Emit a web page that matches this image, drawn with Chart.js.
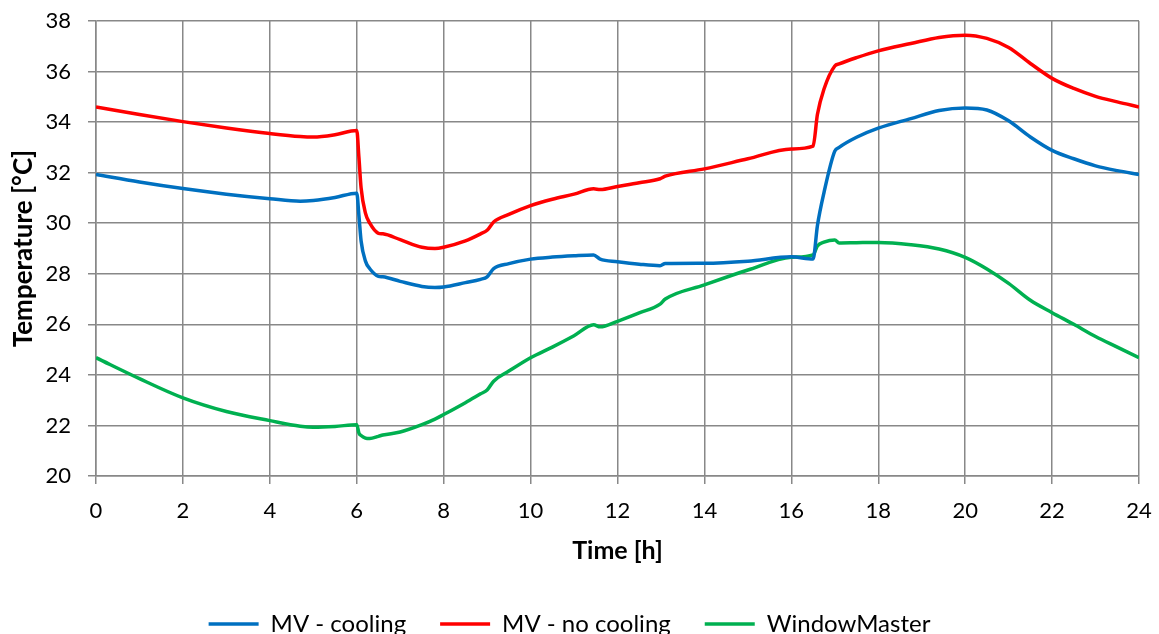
<!DOCTYPE html>
<html>
<head>
<meta charset="utf-8">
<script src="https://cdn.jsdelivr.net/npm/chart.js@4.4.0/dist/chart.umd.min.js"></script>
<style>
  html, body { margin: 0; padding: 0; background: #ffffff; }
  #wrap { width: 1159px; height: 634px; }
</style>
</head>
<body>
<div id="wrap"><canvas id="tempChart"></canvas></div>
<script>
// time of day [h], shared by all three series
const hours = [
  0, 1, 2, 3, 4, 4.7, 5, 5.5, 6, 6.05, 6.1, 6.2, 6.3, 6.5, 6.6, 7, 7.5, 7.8, 8, 8.5,
  8.85, 9, 9.15, 9.5, 10, 10.5, 11, 11.45, 11.6, 12, 12.5, 12.98, 13.1, 14, 15, 16,
  16.5, 16.6, 16.75, 17, 17.1, 17.5, 18, 18.75, 19.4, 20, 20.5, 21, 21.5, 22, 22.5,
  23, 23.5, 24
];

const mvCooling = [
  31.93, 31.63, 31.37, 31.15, 30.97, 30.87, 30.9, 31.02, 31.19, 30.3, 29.3, 28.5, 28.2, 27.9, 27.88, 27.7, 27.5, 27.46, 27.48, 27.65,
  27.78, 27.88, 28.2, 28.4, 28.58, 28.66, 28.71, 28.74, 28.58, 28.48, 28.38, 28.32, 28.41, 28.42, 28.5, 28.67,
  28.58, 29.9, 31.2, 32.85, 33.0, 33.4, 33.76, 34.14, 34.46, 34.56, 34.48, 34.05, 33.41, 32.88, 32.55,
  32.27, 32.08, 31.93
];

const mvNoCooling = [
  34.6, 34.3, 34.02, 33.77, 33.55, 33.43, 33.41, 33.5, 33.67, 32.6, 31.4, 30.4, 30.0, 29.6, 29.58, 29.35, 29.05, 29.0, 29.05, 29.3,
  29.58, 29.72, 30.05, 30.35, 30.7, 30.95, 31.15, 31.36, 31.33, 31.45, 31.6, 31.76, 31.86, 32.15, 32.55, 32.94,
  33.05, 34.3, 35.3, 36.22, 36.3, 36.55, 36.82, 37.11, 37.35, 37.44, 37.31, 36.95, 36.32, 35.73, 35.33,
  35.02, 34.8, 34.6
];

const windowMaster = [
  24.68, 23.85, 23.09, 22.55, 22.19, 21.97, 21.93, 21.96, 22.03, 21.7, 21.6, 21.5, 21.48, 21.57, 21.62, 21.74, 22.03, 22.25, 22.43, 22.9,
  23.25, 23.4, 23.75, 24.15, 24.68, 25.1, 25.55, 25.98, 25.9, 26.12, 26.45, 26.8, 27.0, 27.56, 28.15, 28.65,
  28.75, 29.1, 29.25, 29.34, 29.22, 29.23, 29.24, 29.15, 28.98, 28.65, 28.19, 27.62, 26.95, 26.46, 26.0,
  25.52, 25.1, 24.68
];

const seriesNames = ["MV - cooling", "MV - no cooling", "WindowMaster"];

const fontFamily = "Lato, 'Open Sans', sans-serif";
const gridColor = "#888888";

function toPoints(values) {
  return values.map((v, i) => ({ x: hours[i], y: v }));
}

function lineDataset(label, values, color) {
  return {
    label: label,
    data: toPoints(values),
    borderColor: color,
    backgroundColor: color,
    borderWidth: 3.5,
    pointRadius: 0,
    cubicInterpolationMode: "monotone",
  };
}

new Chart(document.getElementById("tempChart"), {
  type: "line",
  data: {
    datasets: [
      lineDataset(seriesNames[0], mvCooling, "#0070c0"),
      lineDataset(seriesNames[1], mvNoCooling, "#ff0000"),
      lineDataset(seriesNames[2], windowMaster, "#00b050"),
    ],
  },
  options: {
    responsive: true,
    maintainAspectRatio: false,
    animation: false,
    layout: {
      // legend sits partly below the canvas edge, like the original
      padding: { top: 21, right: 20, left: 0, bottom: -12 },
    },
    scales: {
      x: {
        type: "linear",
        min: 0,
        max: 24,
        ticks: {
          stepSize: 2,
          color: "#000000",
          font: { family: fontFamily, size: 22 },
          padding: 14,
          maxRotation: 0,
        },
        grid: {
          color: gridColor,
          lineWidth: 1.5,
          tickLength: 8,
        },
        border: { color: gridColor, width: 1.5 },
        title: {
          display: true,
          text: "Time [h]",
          color: "#000000",
          font: { family: fontFamily, size: 25, weight: "bold" },
          padding: { top: 0, bottom: 12 },
        },
        afterFit: (scale) => {
          scale.height = 102;
          scale.paddingLeft = 0;
          scale.paddingRight = 0;
        },
      },
      y: {
        min: 20,
        max: 38,
        ticks: {
          stepSize: 2,
          color: "#000000",
          font: { family: fontFamily, size: 22 },
          padding: 17,
        },
        grid: {
          color: gridColor,
          lineWidth: 1.5,
          tickLength: 8,
        },
        border: { color: gridColor, width: 1.5 },
        title: {
          display: true,
          text: "Temperature [°C]",
          color: "#000000",
          font: { family: fontFamily, size: 26, weight: "bold" },
          padding: { top: 8, bottom: 0 },
        },
        afterFit: (scale) => {
          scale.width = 96;
          scale.paddingTop = 0;
          scale.paddingBottom = 0;
        },
      },
    },
    plugins: {
      legend: {
        position: "bottom",
        labels: {
          color: "#000000",
          font: { family: fontFamily, size: 24 },
          usePointStyle: true,
          pointStyle: "line",
          pointStyleWidth: 50,
          padding: 34,
        },
      },
      tooltip: { enabled: false },
    },
  },
});
</script>
</body>
</html>
